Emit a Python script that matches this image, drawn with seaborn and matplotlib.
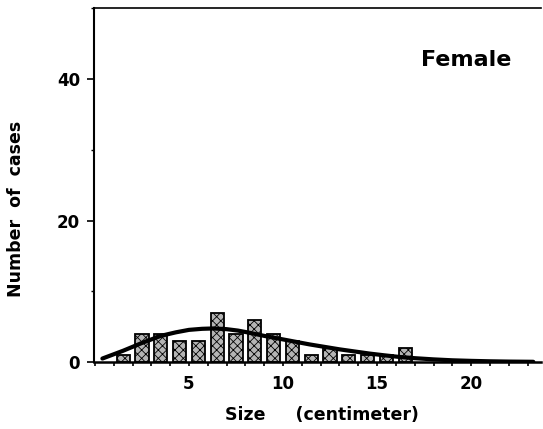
import matplotlib
matplotlib.use("Agg")
import matplotlib.pyplot as plt
from matplotlib.ticker import MultipleLocator
import seaborn as sns
import numpy as np

# ---- data ----
bin_left = [1, 2, 3, 4, 5, 6, 7, 8, 9, 10, 11, 12, 13, 14, 15, 16]
counts = [1, 4, 4, 3, 3, 7, 4, 6, 4, 3, 1, 2, 1, 1, 1, 2]

curve_x = [0.4, 1.5, 2.5, 3.5, 4.3, 5.0, 5.7, 6.3, 7.0, 7.6, 8.2, 9.0, 9.8,
           10.6, 11.4, 12.2, 13.0, 13.8, 14.6, 15.4, 16.2, 17.0, 18.0, 19.0,
           20.0, 21.0, 22.0, 23.3]
curve_y = [0.5, 1.6, 2.7, 3.7, 4.2, 4.55, 4.7, 4.75, 4.65, 4.45, 4.15, 3.7, 3.3,
           2.9, 2.5, 2.15, 1.8, 1.5, 1.2, 0.95, 0.72, 0.55, 0.38, 0.25,
           0.17, 0.11, 0.07, 0.04]

x_ticks = [5, 10, 15, 20]
y_ticks = [0, 20, 40]

sns.set_theme(style="white")
plt.rcParams['font.family'] = ['DejaVu Sans']
plt.rcParams['hatch.linewidth'] = 0.6

fig = plt.figure(figsize=(5.43, 4.29), dpi=100)
ax = fig.add_axes([0.173, 0.156, 0.823, 0.825])

edges = bin_left + [bin_left[-1] + 1]
centers = [b + 0.5 for b in bin_left]
sns.histplot(x=centers, weights=counts, bins=edges, shrink=0.7,
             color="#b5b5b5", edgecolor="black", linewidth=1.3, alpha=1,
             ax=ax)
for p in ax.patches:
    p.set_hatch("xxxx")

sns.lineplot(x=curve_x, y=curve_y, color="black", linewidth=3.0, ax=ax,
             zorder=5)

ax.set_xlim(-0.05, 23.7)
ax.set_ylim(0, 50)

ax.set_xticks(x_ticks)
ax.set_xticklabels([str(t) for t in x_ticks])
ax.xaxis.set_minor_locator(MultipleLocator(1))
ax.set_yticks(y_ticks)
ax.set_yticklabels([str(t) for t in y_ticks])
ax.yaxis.set_minor_locator(MultipleLocator(10))

ax.tick_params(axis="x", which="both", direction="out", length=3, width=1.2,
               color="black", bottom=True, pad=6, labelsize=12,
               labelcolor="black")
ax.tick_params(axis="y", which="major", direction="out", length=5, width=1.2,
               color="black", left=True, pad=5, labelsize=12,
               labelcolor="black")
ax.tick_params(axis="y", which="minor", direction="out", length=2.5,
               width=1.0, color="black", left=True)
for lab in ax.get_xticklabels() + ax.get_yticklabels():
    lab.set_fontweight("bold")

for side in ["left", "bottom", "top"]:
    ax.spines[side].set_visible(True)
    ax.spines[side].set_color("black")
ax.spines["left"].set_linewidth(1.5)
ax.spines["bottom"].set_linewidth(1.8)
ax.spines["top"].set_linewidth(1.2)
ax.spines["right"].set_visible(False)

ax.set_ylabel("Number  of  cases", fontsize=12.5, fontweight="bold",
              color="black")
ax.yaxis.set_label_coords(-0.154, 0.432)
ax.set_xlabel("Size     (centimeter)", fontsize=12.5, fontweight="bold",
              color="black")
ax.xaxis.set_label_coords(0.511, -0.125)

ax.text(0.834, 0.853, "Female", transform=ax.transAxes, ha="center",
        va="center", fontsize=16, fontweight="bold", color="black")

fig.savefig("out.png", dpi=100, facecolor="white")
